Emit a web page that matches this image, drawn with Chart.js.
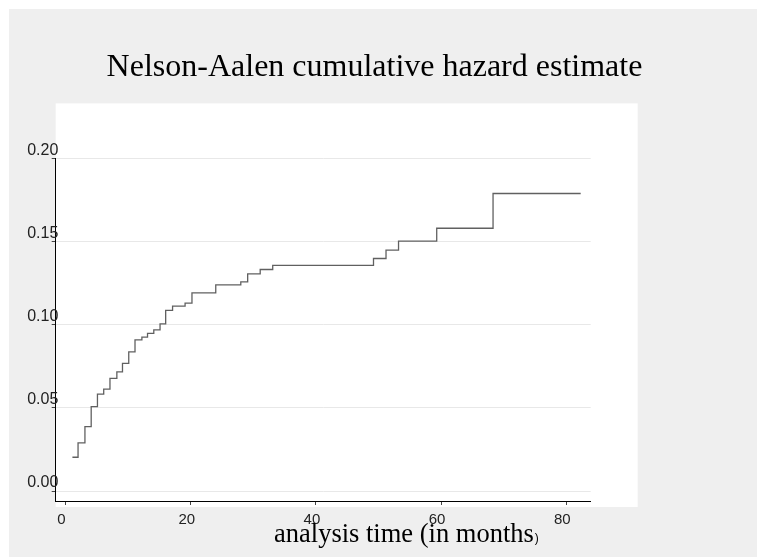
<!DOCTYPE html>
<html>
<head>
<meta charset="utf-8">
<title>Nelson-Aalen cumulative hazard estimate</title>
<script src="https://cdn.jsdelivr.net/npm/chart.js@4.4.0/dist/chart.umd.min.js"></script>
<style>
    html, body { margin: 0; padding: 0; overflow: hidden; background: #efefef; }
    #wrap { width: 757px; height: 557px; }
    canvas { display: block; }
</style>
</head>
<body>
<div id="wrap"><canvas id="hazardChart" width="757" height="557"></canvas></div>
<script>
// Thời gian (tháng) tại mỗi bước nhảy
const analysisTime = [1.1, 2.0, 3.1, 4.1, 5.1, 6.1, 7.1, 8.2, 9.1, 10.1, 11.1, 12.2, 13.1, 14.1, 15.1,
    16.0, 17.1, 19.1, 20.2, 24.0, 28.0, 29.1, 31.1, 33.1, 49.2, 51.2, 53.2, 59.3, 68.3, 82.3];
// Giá trị hazard tích lũy
const cumHazard = [0.0203, 0.0290, 0.0387, 0.0507, 0.0583, 0.0613, 0.0677, 0.0717, 0.0767, 0.0837,
    0.0909, 0.0925, 0.0948, 0.0969, 0.1005, 0.1086, 0.1112, 0.1130, 0.1192, 0.1240, 0.1258, 0.1306,
    0.1332, 0.1357, 0.1398, 0.1448, 0.1502, 0.1580, 0.1789, 0.1789];
// Nhãn trục
const xTicks = [0, 20, 40, 60, 80];
const yTicks = [0, 0.05, 0.10, 0.15, 0.20];
const chartTitle = 'Nelson-Aalen cumulative hazard estimate';
const xTitle = 'analysis time (in months';
const xTitleEnd = ')';

const sansFont = "'Liberation Sans', Arial, sans-serif";
const serifFont = "'Liberation Serif', 'Times New Roman', serif";

let points = analysisTime.map((t, i) => ({ x: t, y: cumHazard[i] }));

// Nền xám và vùng vẽ màu trắng
const backgroundPlugin = {
    id: 'stataBackground',
    beforeDraw: function (chart) {
        let ctx = chart.ctx;
        let area = chart.chartArea;
        ctx.save();
        ctx.fillStyle = '#ffffff';
        ctx.fillRect(0, 0, chart.width, chart.height);
        ctx.fillStyle = '#efefef';
        ctx.fillRect(9, 9, chart.width - 9, chart.height - 9);
        ctx.fillStyle = '#ffffff';
        ctx.fillRect(area.left, area.top - 55, area.right - area.left + 47, area.bottom - area.top + 61);
        ctx.restore();
    }
};

// Tiêu đề trục x (dấu ngoặc cuối nhỏ hơn)
const xTitlePlugin = {
    id: 'xTitle',
    afterDraw: function (chart) {
        let ctx = chart.ctx;
        ctx.save();
        ctx.fillStyle = '#000000';
        ctx.textBaseline = 'alphabetic';
        ctx.textAlign = 'left';
        ctx.font = '26.5px ' + serifFont;
        ctx.fillText(xTitle, 274, 542);
        let w = ctx.measureText(xTitle).width;
        ctx.font = '12px ' + sansFont;
        ctx.fillText(xTitleEnd, 274 + w + 1, 542);
        ctx.restore();
    }
};

let ctx = document.getElementById('hazardChart').getContext('2d');
new Chart(ctx, {
    type: 'scatter',
    data: {
        datasets: [{
            label: 'Nelson-Aalen',
            data: points,
            showLine: true,
            stepped: 'before',
            borderColor: '#606060',
            borderWidth: 1.3,
            pointRadius: 0,
            fill: false
        }]
    },
    options: {
        responsive: false,
        animation: false,
        layout: { padding: { left: 0, right: 8, top: 0, bottom: 0 } },
        plugins: {
            legend: { display: false },
            tooltip: { enabled: false },
            title: {
                display: true,
                text: chartTitle,
                color: '#000000',
                font: { family: serifFont, size: 32, weight: 'normal', lineHeight: 1.2 },
                padding: { top: 48, bottom: 72 }
            }
        },
        scales: {
            x: {
                type: 'linear',
                min: -1.57,
                max: 83.9,
                afterFit: function (scale) { scale.height = 56; },
                afterBuildTicks: function (scale) {
                    scale.ticks = xTicks.map(v => ({ value: v }));
                },
                grid: { drawOnChartArea: false, drawTicks: true, tickLength: 4, tickColor: '#444444' },
                border: { display: true, color: '#000000', width: 1 },
                ticks: {
                    padding: 6,
                    labelOffset: -4,
                    maxRotation: 0,
                    color: '#222222',
                    font: { family: sansFont, size: 15 },
                    callback: function (value) { return value; }
                }
            },
            y: {
                type: 'linear',
                min: -0.006,
                max: 0.20,
                afterFit: function (scale) { scale.width = 55.7; },
                afterBuildTicks: function (scale) {
                    scale.ticks = yTicks.map(v => ({ value: v }));
                },
                grid: { color: '#e8e8e8', lineWidth: 1, drawTicks: true, tickLength: 4, tickColor: '#444444' },
                border: { display: true, color: '#000000', width: 1 },
                ticks: {
                    // mirror để nhãn không bị cắt ở mép trục, nhãn đè lên trục như ảnh gốc
                    mirror: true,
                    padding: -28.5,
                    labelOffset: -8,
                    color: '#222222',
                    font: { family: sansFont, size: 16 },
                    callback: function (value) { return Number(value).toFixed(2); }
                }
            },
            // Trục giả bên phải chỉ để giữ khoảng trống
            yRight: {
                type: 'linear',
                position: 'right',
                display: true,
                afterFit: function (scale) { scale.width = 158.3; },
                grid: { display: false, drawTicks: false },
                border: { display: false },
                ticks: { display: false }
            }
        }
    },
    plugins: [backgroundPlugin, xTitlePlugin]
});
</script>
</body>
</html>
